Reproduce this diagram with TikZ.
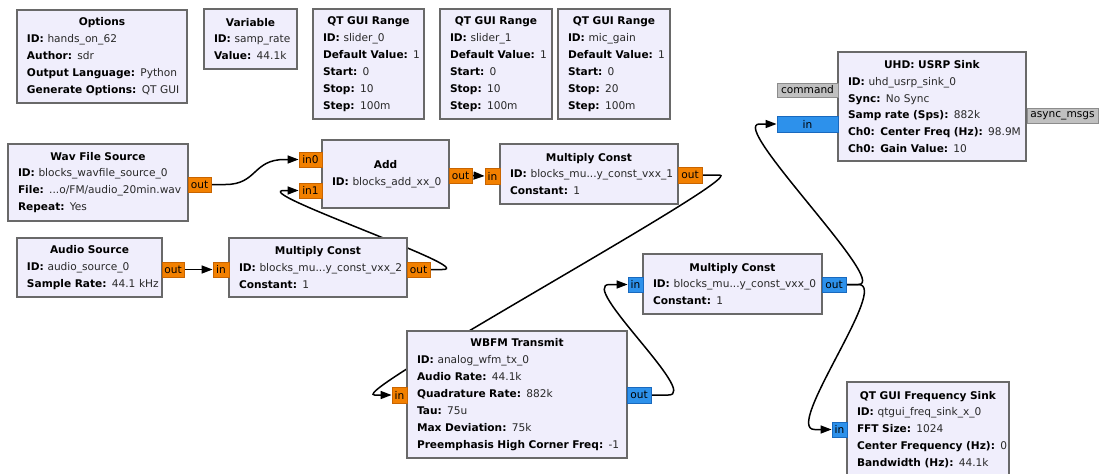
\documentclass[tikz,border=0pt]{standalone}
\usepackage{fontspec}
\setmainfont{DejaVu Sans}
\usetikzlibrary{arrows.meta,calc}
\pgfdeclarelayer{bg}
\pgfdeclarelayer{paper}
\pgfsetlayers{paper,bg,main}
\definecolor{blockfill}{RGB}{240,238,252}
\definecolor{blockdraw}{RGB}{105,105,105}
\definecolor{portorange}{RGB}{242,128,0}
\definecolor{portorangedraw}{RGB}{200,100,0}
\definecolor{portblue}{RGB}{45,145,235}
\definecolor{portbluedraw}{RGB}{25,105,190}
\definecolor{portgray}{RGB}{192,192,192}
\definecolor{portgraydraw}{RGB}{140,140,140}
\definecolor{valtext}{RGB}{40,40,40}
\newcommand{\grcblock}[6]{%
  \pgfmathsetmacro{\bx}{#2+#4/2}\pgfmathsetmacro{\by}{#3+#5/2}\pgfmathsetmacro{\tw}{#4-20}%
  \node[block, minimum width=#4pt, minimum height=#5pt, text width=\tw pt] (#1) at (\bx,\by) {#6};}
\newcommand{\grcport}[7]{%
  \pgfmathsetmacro{\px}{(#2+#4)/2}\pgfmathsetmacro{\py}{(#3+#5)/2}%
  \pgfmathsetmacro{\pw}{#4-#2}\pgfmathsetmacro{\ph}{#5-#3}%
  \node[port, #6, minimum width=\pw pt, minimum height=\ph pt] (#1) at (\px,\py) {#7};}
\newcommand{\ttl}[1]{\centering\textbf{#1}\par\raggedright}
\newcommand{\kv}[2]{\mbox{\textbf{#1:} \textcolor{valtext}{#2}}}
\newcommand{\curveconn}[2]{%
  \draw[conn] (#1.east) -- ++(14,0) .. controls +(32,0) and +(-32,0) .. ($(#2.west)+(-14,0)$) -- (#2.west);}
\tikzset{
  block/.style={draw=blockdraw, fill=blockfill, line width=1.3pt, rectangle, inner xsep=10pt, inner ysep=2pt,
    font=\fontsize{10.6}{16.9}\selectfont},
  port/.style={rectangle, line width=0.8pt, inner sep=0pt, font=\fontsize{10.6}{12}\selectfont},
  porto/.style={fill=portorange, draw=portorangedraw},
  portb/.style={fill=portblue, draw=portbluedraw},
  portg/.style={fill=portgray, draw=portgraydraw},
  conn/.style={line width=1.5pt, black, -{Triangle[length=11pt,width=8pt]}},
}
\begin{document}
\begin{tikzpicture}[x=1pt,y=-1pt]
\begin{pgfonlayer}{paper}
\fill[white] (0,0) rectangle (1101,474);
\end{pgfonlayer}
\useasboundingbox (0,0) rectangle (1101,474);

% variable-type blocks
\grcblock{options}{17}{10}{170}{93}{\ttl{Options}\kv{ID}{hands\_on\_62}\\\kv{Author}{sdr}\\\kv{Output Language}{Python}\\\kv{Generate Options}{QT GUI}}
\grcblock{variable}{204}{9}{93}{60}{\ttl{Variable}\kv{ID}{samp\_rate}\\\kv{Value}{44.1k}}
\grcblock{range0}{313}{9}{111}{110}{\ttl{QT GUI Range}\kv{ID}{slider\_0}\\\kv{Default Value}{1}\\\kv{Start}{0}\\\kv{Stop}{10}\\\kv{Step}{100m}}
\grcblock{range1}{440}{9}{112}{110}{\ttl{QT GUI Range}\kv{ID}{slider\_1}\\\kv{Default Value}{1}\\\kv{Start}{0}\\\kv{Stop}{10}\\\kv{Step}{100m}}
\grcblock{rangemic}{558}{9}{112}{110}{\ttl{QT GUI Range}\kv{ID}{mic\_gain}\\\kv{Default Value}{1}\\\kv{Start}{0}\\\kv{Stop}{20}\\\kv{Step}{100m}}

% processing blocks
\grcblock{uhd}{838}{52}{188}{109}{\ttl{UHD: USRP Sink}\kv{ID}{uhd\_usrp\_sink\_0}\\\kv{Sync}{No Sync}\\\kv{Samp rate (Sps)}{882k}\\\kv{Ch0: Center Freq (Hz)}{98.9M}\\\kv{Ch0: Gain Value}{10}}
\grcblock{wav}{8}{144}{180}{77}{\ttl{Wav File Source}\kv{ID}{blocks\_wavfile\_source\_0}\\\kv{File}{...o/FM/audio\_20min.wav}\\\kv{Repeat}{Yes}}
\grcblock{add}{322}{140}{127}{68}{\ttl{Add}\kv{ID}{blocks\_add\_xx\_0}}
\grcblock{mcone}{500}{144}{178}{60}{\ttl{Multiply Const}\kv{ID}{blocks\_mu...y\_const\_vxx\_1}\\\kv{Constant}{1}}
\grcblock{audio}{17}{238}{145}{59}{\ttl{Audio Source}\kv{ID}{audio\_source\_0}\\\kv{Sample Rate}{44.1 kHz}}
\grcblock{mctwo}{229}{238}{178}{59}{\ttl{Multiply Const}\kv{ID}{blocks\_mu...y\_const\_vxx\_2}\\\kv{Constant}{1}}
\grcblock{mczero}{643}{254}{179}{60}{\ttl{Multiply Const}\kv{ID}{blocks\_mu...y\_const\_vxx\_0}\\\kv{Constant}{1}}
\grcblock{wbfm}{407}{331}{220}{127}{\ttl{WBFM Transmit}\kv{ID}{analog\_wfm\_tx\_0}\\\kv{Audio Rate}{44.1k}\\\kv{Quadrature Rate}{882k}\\\kv{Tau}{75u}\\\kv{Max Deviation}{75k}\\\kv{Preemphasis High Corner Freq}{-1}}
\grcblock{freq}{847}{382}{162}{95}{\ttl{QT GUI Frequency Sink}\kv{ID}{qtgui\_freq\_sink\_x\_0}\\\kv{FFT Size}{1024}\\\kv{Center Frequency (Hz)}{0}\\\kv{Bandwidth (Hz)}{44.1k}}

% ports
\grcport{uhdcmd}{777}{83}{838}{97}{portg}{command}
\grcport{uhdin}{777}{116}{838}{132}{portb}{in}
\grcport{uhdasync}{1027}{108}{1098}{123}{portg}{async\_msgs}
\grcport{wavout}{188}{177}{211}{192}{porto}{out}
\grcport{addinzero}{299}{152}{322}{167}{porto}{in0}
\grcport{addinone}{299}{183}{322}{198}{porto}{in1}
\grcport{addout}{449}{168}{472}{183}{porto}{out}
\grcport{mconein}{485}{168}{500}{184}{porto}{in}
\grcport{mconeout}{678}{167}{702}{183}{porto}{out}
\grcport{audioout}{162}{262}{184}{277}{porto}{out}
\grcport{mctwoin}{213}{262}{229}{277}{porto}{in}
\grcport{mctwoout}{407}{262}{430}{277}{porto}{out}
\grcport{mczeroin}{628}{277}{643}{292}{portb}{in}
\grcport{mczeroout}{822}{277}{846}{292}{portb}{out}
\grcport{wbfmin}{392}{387}{407}{403}{porto}{in}
\grcport{wbfmout}{627}{387}{651}{403}{portb}{out}
\grcport{freqin}{832}{422}{847}{437}{portb}{in}

% connections (drawn behind the blocks)
\begin{pgfonlayer}{bg}
\curveconn{wavout}{addinzero}
\draw[conn] (addout.east) -- (mconein.west);
\draw[conn] (audioout.east) -- (mctwoin.west);
\draw[conn] (mctwoout.east) -- ++(12,0) .. controls +(38,0) and +(-38,0) .. ($(addinone.west)+(-14,0)$) -- (addinone.west);
\draw[conn] (mconeout.east) -- ++(17,0) .. controls +(30,0) and +(-30,0) .. ($(wbfmin.west)+(-17,0)$) -- (wbfmin.west);
\draw[conn] (wbfmout.east) -- ++(17,0) .. controls +(32,0) and +(-32,0) .. ($(mczeroin.west)+(-18,0)$) -- (mczeroin.west);
\draw[conn] (mczeroout.east) -- ++(12,0) .. controls +(32,0) and +(-32,0) .. ($(uhdin.west)+(-17,0)$) -- (uhdin.west);
\draw[conn] (mczeroout.east) -- ++(12,0) .. controls +(32,0) and +(-32,0) .. ($(freqin.west)+(-17,0)$) -- (freqin.west);
\end{pgfonlayer}
\end{tikzpicture}
\end{document}
